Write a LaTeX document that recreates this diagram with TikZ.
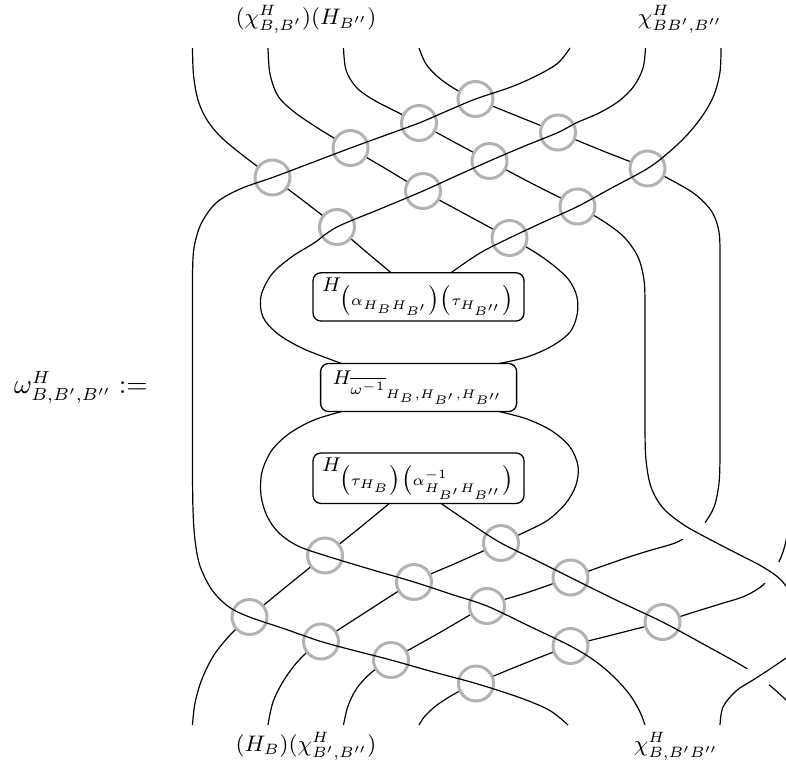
\documentclass[tikz,border=0pt]{standalone}
\usetikzlibrary{calc}
\begin{document}
\begin{tikzpicture}[x=0.4pt,y=-0.4pt,
  strand/.style={line width=0.48pt, black},
  ring/.style={circle, draw=black!30, line width=1.2pt, fill=white, minimum size=14pt, inner sep=0pt},
  box/.style={draw, rounded corners=3.2pt, line width=0.52pt, fill=white, inner sep=0pt, font=\footnotesize},
  gap/.style={preaction={draw=white, line width=10pt}},
  sm/.style={smooth, tension=0.55},
  lbl/.style={inner sep=0pt, font=\fontsize{9}{11}\selectfont},
  ]
\useasboundingbox (0,0) rectangle (786,768);
\clip (0,0) rectangle (786,768);
% ---- end points
\coordinate (T0) at (192.5,48); \coordinate (T1) at (268,48); \coordinate (T2) at (343.5,48);
\coordinate (T3) at (419,48);   \coordinate (T5) at (570,48); \coordinate (T6) at (645.5,48);
\coordinate (T7) at (721,48);
\coordinate (B0) at (192.5,725); \coordinate (B1) at (268,725); \coordinate (B2) at (343.5,725);
\coordinate (B3) at (419,725);   \coordinate (B5) at (568,725); \coordinate (B6) at (645,725);
\coordinate (B7) at (720,725);
% ---- ports on the boxes
\coordinate (P1a) at (391,272.7); \coordinate (P1b) at (451,272.7);
\coordinate (P2a) at (341.7,363.5); \coordinate (P2b) at (499,363.5);
\coordinate (P2c) at (341.7,411.5); \coordinate (P2d) at (499,411.5);
\coordinate (P3a) at (389.4,503.4); \coordinate (P3b) at (441,503.4);
% ---- crossings
\coordinate (t11) at (475.5,99);  \coordinate (t12) at (419,123);
\coordinate (t13) at (350.5,148); \coordinate (t14) at (272.5,177.5);
\coordinate (t21) at (558,132.5); \coordinate (t22) at (489.5,161);
\coordinate (t23) at (423,191);   \coordinate (t24) at (337,227);
\coordinate (t31) at (647.5,168.5); \coordinate (t32) at (577.5,206.5);
\coordinate (t33) at (509.5,238);
\coordinate (b11) at (501,543);   \coordinate (b12) at (570.5,577.5);
\coordinate (b13) at (662.5,622);
\coordinate (b21) at (325,555.5); \coordinate (b22) at (414,582);
\coordinate (b23) at (487,606);   \coordinate (b24) at (570.5,646);
\coordinate (b31) at (249.5,617); \coordinate (b32) at (321,641.5);
\coordinate (b33) at (391,660);   \coordinate (b34) at (476,683.5);

% ---- under strands
\draw[strand] plot[sm] coordinates {(T0) (193.5,75) (198,100) (207,120) (222,138) (245,157) (t14) (305,202) (t24) (364,250) (P1a)};
\draw[strand] plot[sm] coordinates {(T1) (270,74) (278,96) (293,111) (313,125) (333,137.5) (t13) (387,169.5) (t23) (466,214.5) (t33) (533,251) (553,265) (569,280) (577,297) (577,315) (570,332) (552,346) (527,357) (P2b)};
\draw[strand] plot[sm] coordinates {(T2) (346,70) (356,87) (372,99) (395,111) (t12) (454,142) (t22) (533,184) (t32) (603,221) (624,237) (638,257) (644,280) (645,305) (645,330)};
\draw[strand] plot[sm] coordinates {(T3) (426,64) (438,77) (455,89) (t11) (517,116) (t21) (603,151) (t31) (673,181) (696,195) (712,212) (719,232) (720,260) (720,300) (720,340) (720,380) (720,420) (720,455) (719,483) (714,507) (703,525) (689,535) (675,543) (648,551) (620,560) (b12) (529,592) (b23) (439,633) (b33) (372,672) (357,688) (348,706) (B2)};
\draw[strand] plot[sm] coordinates {(792,470) (791,505) (788,530) (783,552) (774,571) (763,585) (745,596) (720,604) (691,613) (b13) (616,634) (b24) (523,664) (b34) (456,693) (437,705) (425,716) (B3)};
\draw[strand] plot[sm] coordinates {(P3a) (357,530) (b21) (287,586) (b31) (231,634) (214,655) (202,679) (195,703) (B0)};
\draw[strand] plot[sm] coordinates {(P2d) (527,419) (552,431) (570,447) (578,466) (576,485) (566,503) (548,520) (525,532) (b11) (457.5,562.5) (b22) (367.5,611) (b32) (300,659) (284,680) (273,702) (B1)};

% ---- rings
\foreach \c in {t11,t12,t13,t14,t21,t22,t23,t24,t31,t32,t33,b11,b12,b13,b21,b22,b23,b24,b31,b32,b33,b34}
  \node[ring] (r\c) at (\c) {};

% ---- over strands
\draw[strand,gap] plot[sm] coordinates {(645,310) (645,350) (645,390) (645,430) (646,460) (651,487) (663,508) (684,525) (711,540) (740,555) (763,567) (781,580) (793,598) (800,620) (803,650)};
\draw[strand] plot[sm] coordinates {(T5) (558,63) (538,75) (511,87) (t11) (447,111) (t12) (384.7,135.5) (t13) (311.5,162.8) (t14) (240,189) (216,203) (201,224) (194,248) (192.5,275) (192.5,310) (192.5,350) (192.5,390) (192.5,430) (192.5,470) (193,510) (195,540) (200,566) (212,590) (229,607) (b31) (285,629) (b32) (356,651) (b33) (433.5,672) (b34) (518,697) (549,710) (B5)};
\draw[strand] plot[sm] coordinates {(T6) (643,68) (634,86) (619,101) (599,113) (576,123) (t21) (523.5,146.5) (t22) (456,176) (t23) (380,209) (t24) (314,243) (291.5,257) (272,274) (261,296) (263,317) (278,334) (304,349) (P2a)};
\draw[strand] plot[sm] coordinates {(T7) (720,72) (714,95) (703,115) (687,135) (668,153) (t31) (612.5,187.5) (t32) (543.5,222) (t33) (480,253) (P1b)};
\draw[strand] plot[sm] coordinates {(P2c) (314,420) (290,433) (272,450) (262,472) (261,495) (267,516) (279,533) (298,546) (b21) (369.5,569) (b22) (450.5,594) (b23) (529,626) (b24) (595,661) (614,677) (630,695) (640,712) (B6)};
\draw[strand] plot[sm] coordinates {(P3b) (472,524.5) (b11) (535.5,560) (b12) (616,600) (b13) (705,645) (746,668) (768,684) (786,700) (800,716)};
\draw[strand,gap] plot[sm] coordinates {(B7) (723,707) (736,691) (753,680) (770,669) (786,658) (802,646)};

% ---- boxes
\node[box, minimum width=84.4pt, minimum height=19.3pt] (box1) at (418.5,296.9)
  {$H_{\bigl(\alpha_{H_BH_{B'}}\bigr)\bigl(\tau_{H_{B''}}\bigr)}$};
\node[box, minimum width=78.4pt, minimum height=19.2pt] (box2) at (418.6,387.5)
  {$H_{\overline{\omega^{-1}}_{H_B,H_{B'},H_{B''}}}$};
\node[box, minimum width=84.4pt, minimum height=20.2pt] (box3) at (418.5,478.2)
  {$H_{\bigl(\tau_{H_B}\bigr)\bigl(\alpha^{-1}_{H_{B'}H_{B''}}\bigr)}$};

% ---- labels
\node[lbl] (ltop) at (306,19) {$(\chi^H_{B,B'})(H_{B''})$};
\node[lbl] (rtop) at (680,19) {$\chi^H_{BB',B''}$};
\node[lbl] (lbot) at (306,746) {$(H_B)(\chi^H_{B',B''})$};
\node[lbl] (rbot) at (676,746) {$\chi^H_{B,B'B''}$};
\node[lbl, font=\fontsize{10.5}{12}\selectfont] (lhs) at (81,388) {$\omega^H_{B,B',B''} :=$};
\end{tikzpicture}
\end{document}
